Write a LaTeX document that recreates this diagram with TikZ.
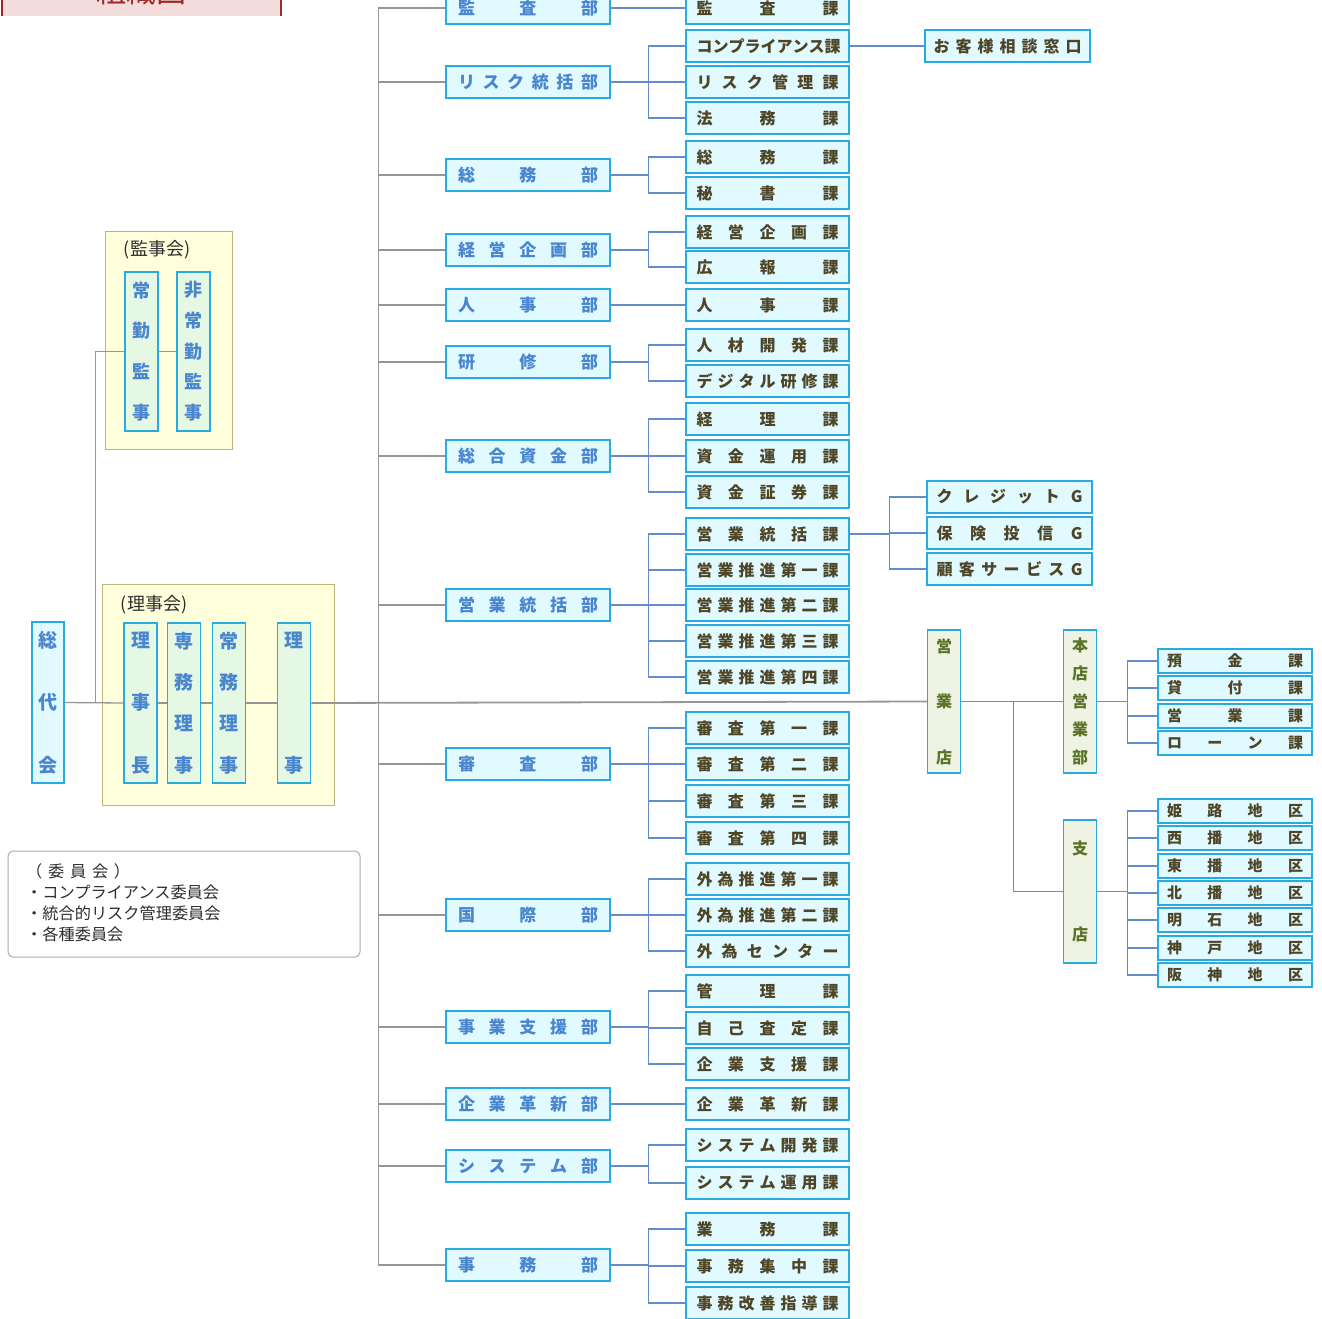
\documentclass[tikz,border=0pt]{standalone}
\usepackage{fontspec}
\newfontfamily\jp{Noto Sans CJK JP}
\usetikzlibrary{positioning}
\definecolor{BoxLine}{RGB}{41, 171, 226}
\definecolor{BoxFill}{RGB}{224, 250, 255}
\definecolor{DeptText}{RGB}{74, 134, 208}
\definecolor{SectText}{RGB}{78, 68, 38}
\definecolor{MemberFill}{RGB}{228, 248, 228}
\definecolor{BranchFill}{RGB}{239, 243, 228}
\definecolor{BranchText}{RGB}{90, 115, 40}
\definecolor{CouncilFill}{RGB}{255, 255, 220}
\definecolor{CouncilLine}{RGB}{190, 180, 120}
\definecolor{TrunkGray}{RGB}{150, 150, 150}
\definecolor{LinkBlue}{RGB}{100, 140, 200}
\definecolor{LabelText}{RGB}{45, 45, 45}
\definecolor{TitleFill}{RGB}{242, 220, 220}
\definecolor{TitleRed}{RGB}{160, 40, 40}
\makeatletter
\def\spr@a#1#2\@nil{#1\ifx\relax#2\relax\else\hfill\spr@a#2\@nil\fi}
\newcommand\hspread[2]{\makebox[#1][s]{\expandafter\spr@a#2\@nil}}
\def\spr@v#1#2\@nil{\hbox to\hsize{\hss#1\hss}\ifx\relax#2\relax\else\vfill\spr@v#2\@nil\fi}
\newcommand\vspread[2]{\vbox to #1{\hsize=1em\expandafter\spr@v#2\@nil}}
\makeatother
\begin{document}
\begin{tikzpicture}[x=1pt, y=-1pt,
    box/.style={rectangle, draw=BoxLine, fill=BoxFill, line width=1.5pt, inner sep=0pt},
    dept/.style={box, minimum width=164pt, minimum height=32pt, text=DeptText,
                 font=\jp\bfseries\fontsize{17}{17}\selectfont},
    sect/.style={box, minimum width=163pt, minimum height=32pt, text=SectText,
                 font=\jp\bfseries\fontsize{16}{16}\selectfont},
    grp/.style={sect, minimum width=165pt},
    small/.style={sect, minimum width=154pt, minimum height=24pt,
                  font=\jp\bfseries\fontsize{15}{15}\selectfont},
    member/.style={box, fill=MemberFill, minimum width=33pt, text=DeptText,
                   font=\jp\bfseries\fontsize{19}{19}\selectfont},
    branch/.style={box, fill=BranchFill, minimum width=33pt, minimum height=143pt, text=BranchText,
                   font=\jp\bfseries\fontsize{16}{16}\selectfont},
    council/.style={rectangle, draw=CouncilLine, fill=CouncilFill, line width=1pt, inner sep=0pt},
    lbl/.style={font=\jp\fontsize{18}{18}\selectfont, text=LabelText, inner sep=0pt},
    trunk/.style={draw=TrunkGray, line width=1.3pt},
    bline/.style={draw=LinkBlue, line width=1.3pt}]
\useasboundingbox (0,0) rectangle (1322,1319);

% title (cut off at the top)
\fill[TitleFill] (2,-30) rectangle (281,16);
\draw[TitleRed, line width=2pt] (2,-30) -- (2,16) (280.5,-30) -- (280.5,16);
\node[font=\jp\fontsize{30}{30}\selectfont, text=TitleRed, anchor=base, inner sep=0pt] (title) at (141.5,3) {組織図};

% councils
\node[council, minimum width=127pt, minimum height=218pt] (kanjikai) at (168.5,340) {};
\node[lbl] at (157,250) {(監事会)};
\node[council, minimum width=232pt, minimum height=221pt] (rijikai) at (218,694.5) {};
\node[lbl] at (154,605) {(理事会)};

% committees
\node[draw=TrunkGray!80, rounded corners=5pt, line width=1pt, minimum width=352pt, minimum height=106pt] (iinkaibox) at (184,904) {};
\node[anchor=north west, align=left, inner sep=0pt, text=LabelText,
      font=\jp\fontsize{16.2}{21}\selectfont] (iinkai) at (26,863)
      {\hspread{104pt}{（委員会）}\\・コンプライアンス委員会\\・統合的リスク管理委員会\\・各種委員会};

% board members
\node[box, minimum width=32pt, minimum height=161pt, text=DeptText,
      font=\jp\bfseries\fontsize{19}{19}\selectfont] (sodai) at (48,702.5) {\vspread{141pt}{総代会}};
\node[member, minimum height=160pt] (richo) at (140.5,703) {\vspread{140pt}{理事長}};
\node[member, minimum height=160pt] (senmu) at (184,703) {\vspread{140pt}{専務理事}};
\node[member, minimum height=160pt] (jomu) at (229,703) {\vspread{140pt}{常務理事}};
\node[member, minimum height=160pt] (riji) at (294,703) {\vspread{140pt}{理事}};
\node[member, minimum height=159pt, font=\jp\bfseries\fontsize{18}{18}\selectfont] (kanji1) at (141.5,351.5) {\vspread{138pt}{常勤監事}};
\node[member, minimum height=159pt, font=\jp\bfseries\fontsize{18}{18}\selectfont] (kanji2) at (193.5,351.5) {\vspread{138pt}{非常勤監事}};

% departments
\foreach \y/\nm/\txt in {8/d1/監査部, 82/d2/リスク統括部, 175/d3/総務部, 250/d4/経営企画部,
                         305/d5/人事部, 362/d6/研修部, 456/d7/総合資金部, 605/d8/営業統括部,
                         764/d9/審査部, 915/d10/国際部, 1027/d11/事業支援部, 1104/d12/企業革新部,
                         1166/d13/システム部, 1265/d14/事務部} {
    \node[dept] (\nm) at (528,\y) {\hspread{140pt}{\txt}};
}

% sections
\foreach \y/\nm/\txt in {8/s1/監査課, 46/s2/コンプライアンス課, 82/s3/リスク管理課, 118/s4/法務課,
                         157/s5/総務課, 193/s6/秘書課, 232/s7/経営企画課, 267/s8/広報課,
                         305/s9/人事課, 345/s10/人材開発課, 381/s11/デジタル研修課,
                         419/s12/経理課, 456/s13/資金運用課, 492/s14/資金証券課,
                         534/s15/営業統括課, 570/s16/営業推進第一課, 605/s17/営業推進第二課,
                         641/s18/営業推進第三課, 677/s19/営業推進第四課,
                         728/s20/審査第一課, 764/s21/審査第二課, 801/s22/審査第三課, 838/s23/審査第四課,
                         879/s24/外為推進第一課, 915/s25/外為推進第二課, 951/s26/外為センター,
                         991/s27/管理課, 1028/s28/自己査定課, 1064/s29/企業支援課,
                         1104/s30/企業革新課, 1145/s31/システム開発課, 1183/s32/システム運用課,
                         1229/s33/業務課, 1266/s34/事務集中課, 1303/s35/事務改善指導課} {
    \node[sect] (\nm) at (767.5,\y) {\hspread{142pt}{\txt}};
}

% groups and desk
\node[grp] (okyaku) at (1007.5,46) {\hspread{148pt}{お客様相談窓口}};
\foreach \y/\nm/\txt in {497/g1/クレジットG, 533/g2/保険投信G, 569/g3/顧客サービスG} {
    \node[grp] (\nm) at (1009.5,\y) {\hspread{146pt}{\txt}};
}

% branches
\node[branch] (eigyoten) at (944,701.5) {\vspread{125pt}{営業店}};
\node[branch] (honten) at (1080,701.5) {\vspread{125pt}{本店営業部}};
\node[branch] (shiten) at (1080,891.5) {\vspread{100pt}{支店}};
\foreach \y/\nm/\txt in {661/h1/預金課, 688/h2/貸付課, 716/h3/営業課, 743/h4/ローン課} {
    \node[small] (\nm) at (1235,\y) {\hspread{136pt}{\txt}};
}
\foreach \y/\nm/\txt in {811/k1/姫路地区, 838/k2/西播地区, 866/k3/東播地区, 893/k4/北播地区,
                         920/k5/明石地区, 948/k6/神戸地区, 975/k7/阪神地区} {
    \node[small] (\nm) at (1235,\y) {\hspread{136pt}{\txt}};
}

% board connectors
\draw[trunk] (sodai.east) -- (richo.west);
\draw[trunk] (richo.east) -- (senmu.west);
\draw[trunk] (senmu.east) -- (jomu.west);
\draw[trunk] (jomu.east) -- (riji.west);
\draw[trunk] (sodai.east) -- ++(31,0) |- (kanji1.west);
\draw[trunk] (kanji1.east) -- (kanji2.west);
\draw[trunk, line width=1.8pt] (riji.east) -- (eigyoten.west);

% trunk to departments
\draw[trunk] (d1.west) -- ++(-67,0) |- (d14.west);
\foreach \nm in {d2,d3,d4,d5,d6,d7,d8,d9,d10,d11,d12,d13} {
    \draw[trunk] (\nm.west) -- ++(-67,0);
}

% departments to sections
\draw[bline] (d1.east) -- (s1.west);
\draw[bline] (d5.east) -- (s9.west);
\draw[bline] (d12.east) -- (s30.west);
\foreach \d/\list in {d2/{s2,s3,s4}, d3/{s5,s6}, d4/{s7,s8}, d6/{s10,s11}, d7/{s12,s13,s14},
                      d8/{s15,s16,s17,s18,s19}, d9/{s20,s21,s22,s23}, d10/{s24,s25,s26},
                      d11/{s27,s28,s29}, d13/{s31,s32}, d14/{s33,s34,s35}} {
    \foreach \s in \list {
        \draw[bline] (\d.east) -- ++(38,0) |- (\s.west);
    }
}
\draw[bline] (s2.east) -- (okyaku.west);
\foreach \g in {g1,g2,g3} {
    \draw[bline] (s15.east) -- ++(40,0) |- (\g.west);
}

% branch connectors
\draw[bline] (eigyoten.east) -- (honten.west);
\draw[bline] (eigyoten.east) -- ++(52,0) |- (shiten.west);
\foreach \h in {h1,h2,h3,h4} {
    \draw[bline] (honten.east) -- ++(30,0) |- (\h.west);
}
\foreach \k in {k1,k2,k3,k4,k5,k6,k7} {
    \draw[bline] (shiten.east) -- ++(30,0) |- (\k.west);
}
\end{tikzpicture}
\end{document}
